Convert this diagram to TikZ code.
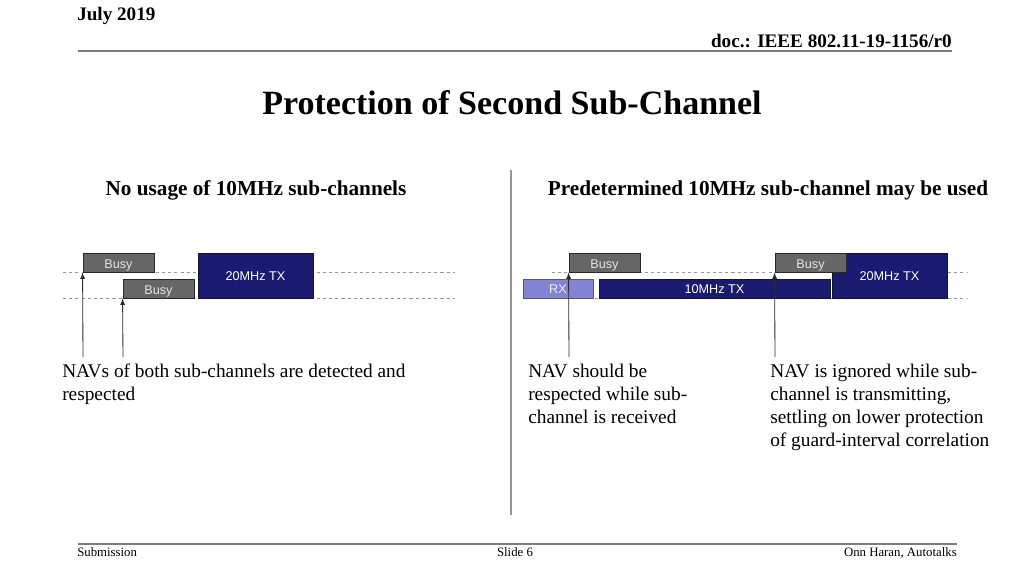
\documentclass[tikz,border=0pt]{standalone}
\usepackage{fontspec}
\setmainfont{Liberation Serif}
\setsansfont{Liberation Sans}
\usepackage{xcolor}
\usetikzlibrary{positioning, arrows}

\definecolor{navytx}{RGB}{26,26,112}
\definecolor{rxfill}{RGB}{132,132,214}
\definecolor{busyfill}{RGB}{102,102,102}
\definecolor{rulegray}{RGB}{125,125,125}
\definecolor{splitgray}{RGB}{150,150,150}

\tikzset{
  busybox/.style={draw={rgb,255:red,40;green,40;blue,40}, fill=busyfill, text={rgb,255:red,228;green,228;blue,228}, minimum width=1.775cm, minimum height=0.475cm, inner sep=0pt, text height=8.4pt, text depth=0pt, line width=0.6pt, font=\sffamily\fontsize{9}{10}\selectfont},
  txbox/.style={draw={rgb,255:red,20;green,20;blue,40}, fill=navytx, text=white, minimum height=1.125cm, minimum width=2.875cm, inner sep=0pt, text height=6.6pt, text depth=0pt, line width=0.6pt, font=\sffamily\fontsize{9}{10}\selectfont},
  rxbox/.style={draw={rgb,255:red,90;green,90;blue,110}, fill=rxfill, text={rgb,255:red,235;green,235;blue,245}, minimum height=0.475cm, minimum width=1.75cm, inner sep=0pt, text height=6.6pt, text depth=0pt, line width=0.6pt, font=\sffamily\fontsize{9}{10}\selectfont},
  guide/.style={dashed, dash pattern=on 2.2pt off 2.2pt, draw=splitgray, line width=0.6pt},
  navarrow/.style={-latex, draw={rgb,255:red,45;green,45;blue,45}, line width=0.6pt},
  note/.style={anchor=north west, inner sep=0pt, align=left, font=\fontsize{13.75}{16.4}\selectfont},
  subhead/.style={anchor=base, inner sep=0pt, font=\bfseries\fontsize{15.1}{18}\selectfont},
  foot/.style={anchor=base, inner sep=0pt, font=\fontsize{9.1}{11}\selectfont},
  hdr/.style={anchor=base, inner sep=0pt, font=\bfseries\fontsize{13.6}{16}\selectfont}
}

\begin{document}
\begin{tikzpicture}[x=0.025cm, y=-0.025cm]
  \path[use as bounding box] (0,0) rectangle (1024,576);

  \node[hdr, anchor=base west] (month) at (77,20.5) {July 2019};
  \node[hdr, anchor=base east] (docid) at (952,48) {doc.: IEEE 802.11-19-1156/r0};
  \draw[rulegray, line width=1.4pt] (78,51) -- (952,51);

  \node[anchor=base, inner sep=0pt, font=\bfseries\fontsize{24.2}{29}\selectfont] (title) at (512,115) {Protection of Second Sub-Channel};

  \node[subhead] (lefthead) at (256,196) {No usage of 10MHz sub-channels};
  \node[subhead] (righthead) at (768,196) {Predetermined 10MHz sub-channel may be used};

  \draw[splitgray, line width=1.4pt] (511,170) -- (511,515);

  \draw[guide] (63,272) -- (455,272);
  \draw[guide] (63,298) -- (455,298);
  \draw[guide] (552,272) -- (968,272);
  \draw[guide] (552,298) -- (968,298);

  \draw
    (118.5,262.5) node[busybox] (busyA){Busy}
    (158.5,288.5) node[busybox] (busyB){Busy}
    (255.5,275.5) node[txbox] (wideA){20MHz TX}
    (558,288.5) node[rxbox] (rxC){RX}
    (714.5,288.5) node[txbox, minimum height=0.475cm, minimum width=5.775cm] (narrowC){10MHz TX}
    (604.5,262.5) node[busybox] (busyC){Busy}
    (889.5,275.5) node[txbox] (wideD){20MHz TX}
    (810.5,262.5) node[busybox] (busyD){Busy};

  \coordinate (navA) at (83,357);
  \coordinate (navB) at (123,357);
  \coordinate (navC) at (569,357);
  \coordinate (navD) at (775,357);
  \begin{scope}[navarrow]
    \draw (navA) to (busyA.south west);
    \draw (navB) to (busyB.south west);
    \draw (navC) to (busyC.south west);
    \draw (navD) to (busyD.south west);
  \end{scope}

  \node[note] (leftnote) at (62,363.5) {NAVs of both sub-channels are detected and\\respected};
  \node[note] (rxnote) at (528,363.5) {NAV should be\\respected while sub-\\channel is received};
  \node[note] (txnote) at (770,363.5) {NAV is ignored while sub-\\channel is transmitting,\\settling on lower protection\\of guard-interval correlation};

  \draw[rulegray, line width=1.4pt] (78,544) -- (957,544);
  \node[foot, anchor=base west] (subm) at (77,556) {Submission};
  \node[foot] (slideno) at (515,556) {Slide 6};
  \node[foot, anchor=base east] (author) at (957,556) {Onn Haran, Autotalks};
\end{tikzpicture}
\end{document}
